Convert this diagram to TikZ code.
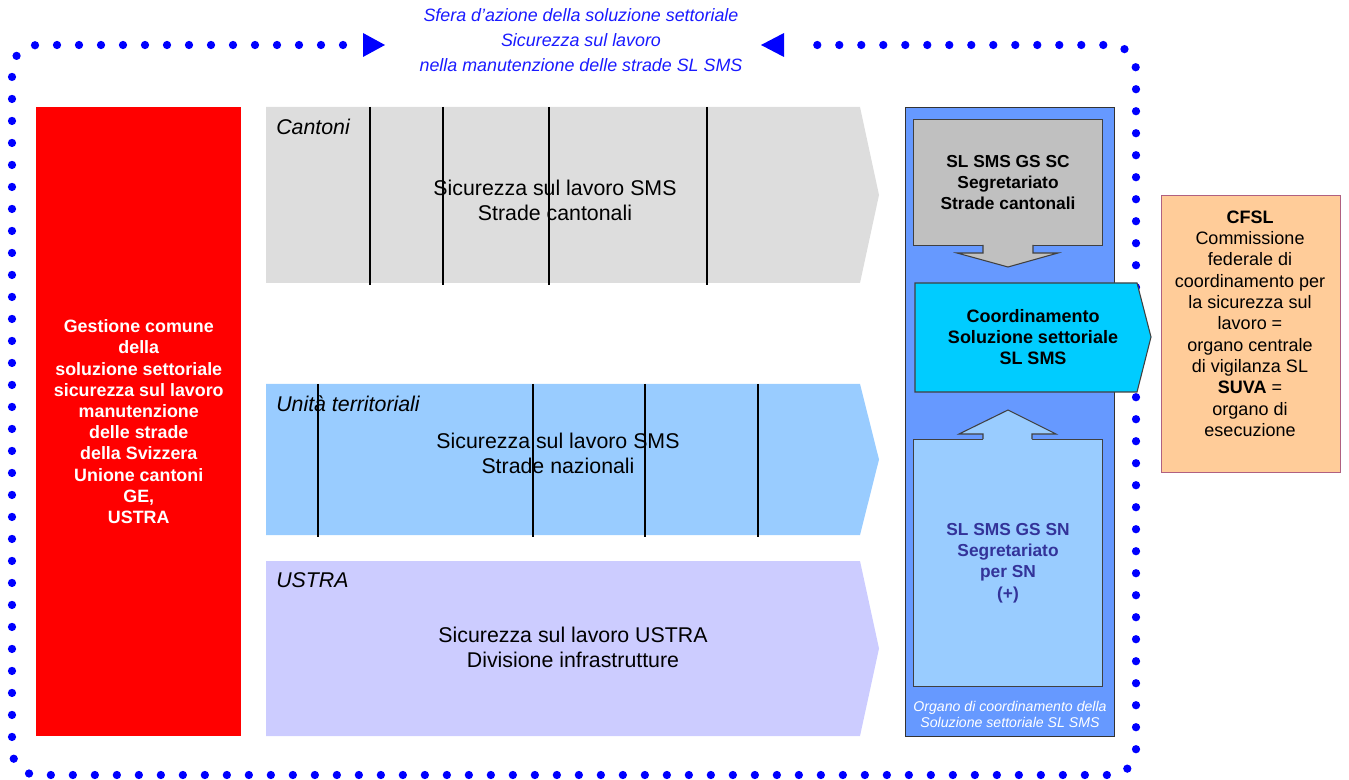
\documentclass[tikz,border=0pt]{standalone}
\usepackage{fontspec}
\setmainfont{Liberation Sans}
\usepackage{tikz}
\usetikzlibrary{arrows,shapes}
\definecolor{dotblue}{HTML}{0000FF}
\definecolor{titleblue}{HTML}{1A1AFF}
\definecolor{cantgray}{HTML}{DDDDDD}
\definecolor{utblue}{HTML}{99CCFF}
\definecolor{ustralila}{HTML}{CCCCFF}
\definecolor{organblue}{HTML}{6699FF}
\definecolor{secgray}{HTML}{C0C0C0}
\definecolor{coordcyan}{HTML}{00CCFF}
\definecolor{snblue}{HTML}{333399}
\definecolor{cfslorange}{HTML}{FFCC99}
\definecolor{cfslborder}{HTML}{B06080}
\tikzstyle{gestbox} = [rectangle, anchor=north west, inner sep=0pt, fill=red, minimum width=153.75pt, minimum height=471.75pt, text=white, align=center, font=\bfseries\fontsize{13.4pt}{15.9pt}\selectfont]
\tikzstyle{organbox} = [rectangle, anchor=north west, inner sep=0pt, draw=black!80, line width=0.9pt, fill=organblue, minimum width=156.75pt, minimum height=471.75pt]
\tikzstyle{secbox} = [rectangle, anchor=north west, inner sep=0pt, draw=black!75, line width=0.8pt, minimum width=141.75pt, align=center, font=\bfseries\fontsize{13pt}{15.9pt}\selectfont]
\tikzstyle{cfslbox} = [rectangle, anchor=north west, inner sep=0pt, draw=cfslborder, line width=0.9pt, fill=cfslorange, minimum width=134.25pt, minimum height=207.75pt]
\tikzstyle{cfsltxt} = [align=center, font=\fontsize{13.5pt}{16pt}\selectfont]
\tikzstyle{maintxt} = [align=center, font=\fontsize{16pt}{18.75pt}\selectfont]
\tikzstyle{lanelabel} = [anchor=west, inner sep=0pt, font=\itshape\fontsize{16pt}{18.75pt}\selectfont]
\tikzstyle{divider} = [line width=1.1pt, black]
\tikzstyle{blockarrow} = [draw=black!75, line width=0.8pt]
\tikzstyle{dotframe} = [dotblue, line width=6.2pt, line cap=round, dash pattern=on 0pt off 16.5pt, rounded corners=19pt]

\begin{document}
\begin{tikzpicture}[x=0.75pt,y=-0.75pt]
\useasboundingbox (0,0) rectangle (1349,780);

% dotted frame and title
\draw[dotframe] (343,45) -- (12,45) -- (12,775) -- (1136,775) -- (1136,45) -- (799,45);
\fill[dotblue] (363,33) -- (385,45) -- (363,57) -- cycle;
\fill[dotblue] (784,33) -- (761,45) -- (784,57) -- cycle;
\node (title) [align=center, text=titleblue, font=\itshape\fontsize{13.4pt}{18.75pt}\selectfont] at (581,40) {Sfera d'azione della soluzione settoriale\\Sicurezza sul lavoro\\nella manutenzione delle strade SL SMS};

% left block
\node (gest) [gestbox] at (36,107) {Gestione comune\\della\\soluzione settoriale\\sicurezza sul lavoro\\manutenzione\\delle strade\\della Svizzera\\Unione cantoni\\GE,\\USTRA};

% lanes
\fill[cantgray] (266,107) -- (860,107) -- (879,195) -- (860,283) -- (266,283) -- cycle;
\foreach \x in {370,443,549,707} \draw[divider] (\x,107) -- (\x,285);
\node (cant) [lanelabel] at (276,127) {Cantoni};
\node (canttxt) [maintxt] at (555,200) {Sicurezza sul lavoro SMS\\Strade cantonali};

\fill[utblue] (266,384) -- (860,384) -- (879,459.5) -- (860,535) -- (266,535) -- cycle;
\foreach \x in {318,533,645,758} \draw[divider] (\x,384) -- (\x,537);
\node (ut) [lanelabel] at (276,404) {Unità territoriali};
\node (uttxt) [maintxt] at (558,453.5) {Sicurezza sul lavoro SMS\\Strade nazionali};

\fill[ustralila] (266,561) -- (860,561) -- (879,648.5) -- (860,736) -- (266,736) -- cycle;
\node (ustra) [lanelabel] at (276,580) {USTRA};
\node (ustratxt) [maintxt] at (573,647.5) {Sicurezza sul lavoro USTRA\\Divisione infrastrutture};

% coordination column
\node (organo) [organbox] at (905,107) {};
\node (sc) [secbox, fill=secgray, minimum height=94.5pt] at (913,119) {SL SMS GS SC\\Segretariato\\Strade cantonali};
\node (sn) [secbox, fill=utblue, minimum height=185.25pt, text=snblue] at (913,439) {SL SMS GS SN\\Segretariato\\per SN\\(+)};
\fill[secgray] (983,243.5) -- (983,253) -- (957,253) -- (1008,267) -- (1058,253) -- (1033,253) -- (1033,243.5) -- cycle;
\draw[blockarrow] (983,245) -- (983,253) -- (957,253) -- (1008,267) -- (1058,253) -- (1033,253) -- (1033,245);
\fill[utblue] (983,440.5) -- (983,434) -- (959,434) -- (1008,410) -- (1056,434) -- (1032,434) -- (1032,440.5) -- cycle;
\draw[blockarrow] (983,439) -- (983,434) -- (959,434) -- (1008,410) -- (1056,434) -- (1032,434) -- (1032,439);
\filldraw[blockarrow, fill=coordcyan] (915,283) -- (1137,283) -- (1151,337) -- (1137,392) -- (915,392) -- cycle;
\node (coord) [align=center, font=\bfseries\fontsize{13.5pt}{15.75pt}\selectfont] at (1033,337) {Coordinamento\\Soluzione settoriale\\SL SMS};
\node (organotxt) [align=center, text=white, font=\itshape\fontsize{10.6pt}{12pt}\selectfont] at (1010,714) {Organo di coordinamento della\\Soluzione settoriale SL SMS};

% CFSL
\node (cfsl) [cfslbox] at (1161,195) {};
\node (cfsltext) [cfsltxt] at (1250,323.5) {\textbf{CFSL}\\Commissione\\federale di\\coordinamento per\\la sicurezza sul\\lavoro =\\organo centrale\\di vigilanza SL\\\textbf{SUVA} =\\organo di\\esecuzione};
\end{tikzpicture}
\end{document}
